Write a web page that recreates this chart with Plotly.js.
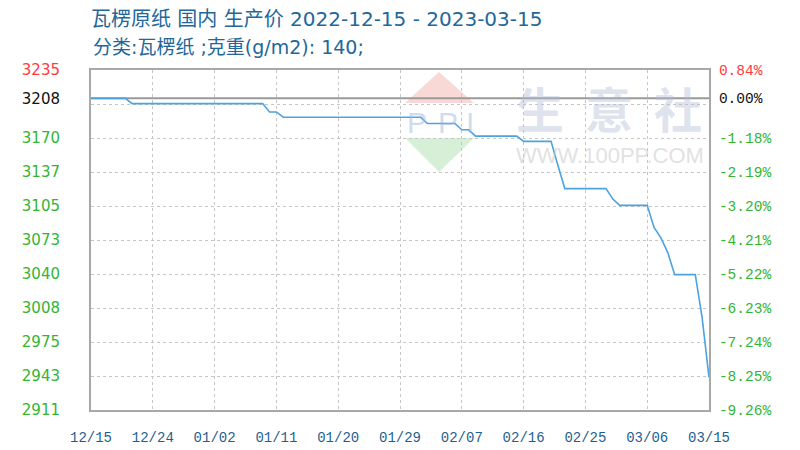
<!DOCTYPE html>
<html>
<head>
<meta charset="utf-8">
<script src="https://cdn.plot.ly/plotly-3.0.1.min.js"></script>
<style>html,body{margin:0;padding:0;background:#fff;}#chart{width:800px;height:450px;}</style>
</head>
<body>
<div id="chart"></div>
<script>
// ---- data ----
var dates = ['2022-12-15','2022-12-20','2022-12-21','2023-01-09','2023-01-10','2023-01-11','2023-01-12',
  '2023-02-01','2023-02-02','2023-02-06','2023-02-07','2023-02-08','2023-02-09','2023-02-15','2023-02-16',
  '2023-02-20','2023-02-21','2023-02-22','2023-02-28','2023-03-01','2023-03-02','2023-03-06','2023-03-07',
  '2023-03-08','2023-03-09','2023-03-10','2023-03-13','2023-03-14','2023-03-15'];
var prices = [3208,3208,3203,3203,3195,3195,3190,
  3190,3184,3184,3178,3178,3172,3172,3167,
  3167,3144,3122,3122,3112,3106,3106,3085,
  3075,3061,3040,3040,2999,2942];

var basePrice = 3208;
var yMin = 2911, yMax = 3235;
var leftTickVals = [3235,3208,3170.2,3137.8,3105.4,3073,3040.6,3008.2,2975.8,2943.4,2911];
var leftTickText = ['3235','3208','3170','3137','3105','3073','3040','3008','2975','2943','2911'];
var rightTickText = ['0.84%','0.00%','-1.18%','-2.19%','-3.20%','-4.21%','-5.22%','-6.23%','-7.24%','-8.25%','-9.26%'];
var gridVals = [3202.6,3170.2,3137.8,3105.4,3073,3040.6,3008.2,2975.8,2943.4];
var xTickVals = ['2022-12-15','2022-12-24','2023-01-02','2023-01-11','2023-01-20','2023-01-29',
  '2023-02-07','2023-02-16','2023-02-25','2023-03-06','2023-03-15'];
var xTickText = ['12/15','12/24','01/02','01/11','01/20','01/29','02/07','02/16','02/25','03/06','03/15'];

var titleText = '瓦楞原纸 国内 生产价 2022-12-15 - 2023-03-15';
var subtitleText = '分类:瓦楞纸 ;克重(g/m2): 140;';

// ---- styling ----
var RED = '#ff3b3b', GREEN = '#33b533', BLACK = '#111111';
function colorFor(i){ return i === 0 ? RED : (i === 1 ? BLACK : GREEN); }
var leftText = leftTickText.map(function(t,i){ return '<span style="color:'+colorFor(i)+'">'+t+'</span>'; });
var rightText = rightTickText.map(function(t,i){ return '<span style="color:'+colorFor(i)+'">'+t+'</span>'; });

var frameColor = '#a8a8a8';
var gridColor = '#c6c6c6';
var titleFont = '"DejaVu Sans", "Noto Sans CJK SC", sans-serif';

var trace = {
  x: dates, y: prices, type: 'scatter', mode: 'lines',
  line: {color: '#4ca3e0', width: 1.6, shape: 'linear'},
  xaxis: 'x', yaxis: 'y', hoverinfo: 'x+y', showlegend: false
};
// invisible copies so the two label axes (left prices, right percentages) are drawn
var traceLeft = {x: dates, y: prices, type: 'scatter', mode: 'lines', line: {width: 0, color: 'rgba(0,0,0,0)'},
  xaxis: 'x', yaxis: 'y2', hoverinfo: 'skip', showlegend: false};
var traceRight = {x: dates, y: prices, type: 'scatter', mode: 'lines', line: {width: 0, color: 'rgba(0,0,0,0)'},
  xaxis: 'x', yaxis: 'y3', hoverinfo: 'skip', showlegend: false};

// plot area in pixels: x 91..709, y 70..410
function px(x){ return (x-91)/618; }
function py(y){ return (410-y)/340; }

var wmLetter = {family: '"Liberation Sans", sans-serif', size: 30, color: 'rgba(165,182,222,0.5)'};
var wmHan = {family: '"Noto Sans CJK SC", sans-serif', size: 48, color: 'rgba(175,188,215,0.42)'};

var layout = {
  width: 800, height: 450,
  margin: {l: 91, r: 91, t: 70, b: 40, pad: 0},
  paper_bgcolor: '#ffffff', plot_bgcolor: '#ffffff',
  showlegend: false,
  title: {
    text: titleText,
    font: {family: titleFont, size: 20, color: '#22679a'},
    x: 91/800, xanchor: 'left', xref: 'container',
    y: 1 - 19/450, yanchor: 'middle', yref: 'container'
  },
  xaxis: {
    type: 'date', range: ['2022-12-15','2023-03-15'], fixedrange: true,
    tickmode: 'array', tickvals: xTickVals, ticktext: xTickText,
    tickfont: {family: '"Liberation Mono", "DejaVu Sans Mono", monospace', size: 14, color: '#1f5f8f'},
    ticks: 'outside', ticklen: 13, tickcolor: 'rgba(0,0,0,0)',
    showgrid: true, gridcolor: gridColor, griddash: 'dot', gridwidth: 1,
    showline: true, mirror: true, linecolor: frameColor, linewidth: 2, zeroline: false
  },
  yaxis: {
    range: [yMin, yMax], autorange: false, fixedrange: true,
    tickmode: 'array', tickvals: gridVals, showticklabels: false, ticks: '',
    showgrid: true, gridcolor: gridColor, griddash: 'dot', gridwidth: 1,
    showline: true, mirror: true, linecolor: frameColor, linewidth: 2, zeroline: false
  },
  yaxis2: {
    overlaying: 'y', side: 'left', anchor: 'x',
    range: [yMin, yMax], autorange: false, fixedrange: true,
    tickmode: 'array', tickvals: leftTickVals, ticktext: leftText,
    tickfont: {family: '"DejaVu Sans", Verdana, sans-serif', size: 15, color: GREEN},
    ticks: 'outside', ticklen: 27, tickcolor: 'rgba(0,0,0,0)',
    showgrid: false, showline: false, zeroline: false
  },
  yaxis3: {
    overlaying: 'y', side: 'right', anchor: 'x',
    range: [yMin, yMax], autorange: false, fixedrange: true,
    tickmode: 'array', tickvals: leftTickVals, ticktext: rightText,
    tickfont: {family: '"Liberation Mono", "DejaVu Sans Mono", monospace', size: 14.5, color: GREEN},
    ticks: 'outside', ticklen: 6, tickcolor: 'rgba(0,0,0,0)',
    showgrid: false, showline: false, zeroline: false
  },
  shapes: [
    {type: 'path', xref: 'paper', yref: 'paper', layer: 'below',
     path: 'M '+px(439)+' '+py(72)+' L '+px(405)+' '+py(103)+' L '+px(474)+' '+py(103)+' Z',
     fillcolor: 'rgba(240,165,155,0.42)', line: {width: 0}},
    {type: 'path', xref: 'paper', yref: 'paper', layer: 'below',
     path: 'M '+px(405)+' '+py(138)+' L '+px(474)+' '+py(138)+' L '+px(439)+' '+py(172)+' Z',
     fillcolor: 'rgba(150,210,150,0.38)', line: {width: 0}},
    {type: 'line', xref: 'paper', x0: 0, x1: 1, yref: 'y', y0: basePrice, y1: basePrice,
     layer: 'below', line: {color: '#9a9a9a', width: 2}}
  ],
  annotations: [
    {text: subtitleText, xref: 'paper', yref: 'paper', x: 0, y: py(47), xanchor: 'left', yanchor: 'middle',
     showarrow: false, font: {family: titleFont, size: 19, color: '#22679a'}},
    {text: 'P', xref: 'paper', yref: 'paper', x: px(417), y: py(122), xanchor: 'center', yanchor: 'middle',
     showarrow: false, font: wmLetter},
    {text: 'P', xref: 'paper', yref: 'paper', x: px(448), y: py(122), xanchor: 'center', yanchor: 'middle',
     showarrow: false, font: wmLetter},
    {text: 'I', xref: 'paper', yref: 'paper', x: px(470), y: py(122), xanchor: 'center', yanchor: 'middle',
     showarrow: false, font: wmLetter},
    {text: '<b>生</b>', xref: 'paper', yref: 'paper', x: px(540), y: py(107), xanchor: 'center', yanchor: 'middle',
     showarrow: false, font: wmHan},
    {text: '<b>意</b>', xref: 'paper', yref: 'paper', x: px(609), y: py(107), xanchor: 'center', yanchor: 'middle',
     showarrow: false, font: wmHan},
    {text: '<b>社</b>', xref: 'paper', yref: 'paper', x: px(678), y: py(107), xanchor: 'center', yanchor: 'middle',
     showarrow: false, font: wmHan},
    {text: 'WWW.100PP.COM', xref: 'paper', yref: 'paper', x: px(610), y: py(155), xanchor: 'center', yanchor: 'middle',
     showarrow: false, font: {family: '"Liberation Sans", Arial, sans-serif', size: 22, color: 'rgba(200,200,200,0.55)'}}
  ]
};

Plotly.newPlot('chart', [trace, traceLeft, traceRight], layout, {staticPlot: true, displayModeBar: false});
</script>
</body>
</html>
